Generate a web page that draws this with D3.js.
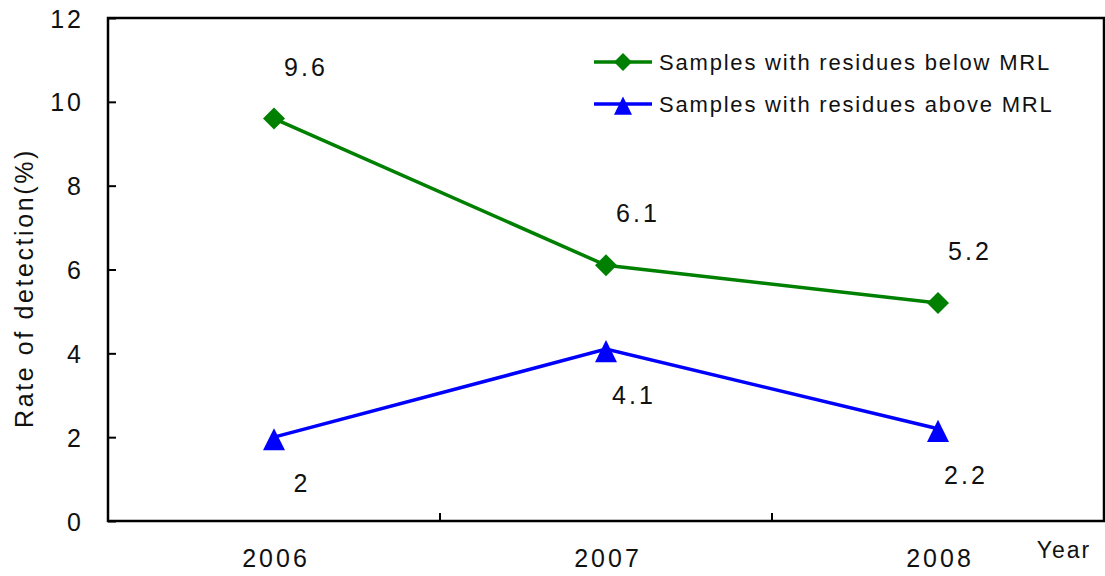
<!DOCTYPE html>
<html><head><meta charset="utf-8">
<script src="https://cdn.jsdelivr.net/npm/d3@7"></script>
<style>body{margin:0;background:#fff}text{font-family:"Liberation Sans",Arial,sans-serif;fill:#111}</style>
</head><body>
<svg id="c" width="1105" height="576"></svg>
<script>
const years = ["2006", "2007", "2008"];
const belowMRL = [9.6, 6.1, 5.2];
const aboveMRL = [2, 4.1, 2.2];
const yTicks = [0, 2, 4, 6, 8, 10, 12];
const seriesNames = ["Samples with residues below MRL", "Samples with residues above MRL"];

const svg = d3.select("#c");
const L = 108, R = 1104, T = 18, B = 521;
const x = d3.scaleBand().domain(years).range([L, R]);
const y = d3.scaleLinear().domain([0, 12]).range([B, T]);

// frame
svg.append("rect").attr("x", L).attr("y", T).attr("width", R - L).attr("height", B - T)
  .attr("fill", "none").attr("stroke", "#000").attr("stroke-width", 2.5);

// y axis
const ya = svg.append("g").attr("transform", `translate(${L},0)`)
  .call(d3.axisLeft(y).tickValues(yTicks).tickSize(-8).tickPadding(24).tickFormat(d3.format("d")));
ya.select(".domain").remove();
ya.selectAll("line").attr("stroke", "#000").attr("stroke-width", 2);
ya.selectAll("text").attr("font-size", 25).attr("letter-spacing", 3).attr("dy", "0.36em").style("fill", "#111");

// x axis
const xa = svg.append("g").attr("transform", `translate(0,${B})`)
  .call(d3.axisBottom(x).tickSize(0).tickPadding(28));
xa.select(".domain").remove();
xa.selectAll("text").attr("font-size", 25).attr("letter-spacing", 3).attr("dx", 2).style("fill", "#111");
// category boundary ticks
const bounds = years.slice(1).map(d => x(d));
svg.selectAll(".bt").data(bounds).enter().append("line")
  .attr("x1", d => d).attr("x2", d => d).attr("y1", B).attr("y2", B - 8)
  .attr("stroke", "#000").attr("stroke-width", 2);

// axis titles
svg.append("text").attr("transform", `translate(33,288) rotate(-90)`).attr("text-anchor", "middle")
  .attr("font-size", 25).attr("letter-spacing", 2.6).text("Rate of detection(%)");
svg.append("text").attr("x", 1064).attr("y", 558).attr("text-anchor", "middle")
  .attr("font-size", 23).attr("letter-spacing", 2).text("Year");

const cx = d => x(d) + x.bandwidth() / 2;
const line = d3.line().x(d => cx(d[0])).y(d => y(d[1]));
const green = "#008000", blue = "#0000ff";
const diamond = s => `M0,${-s}L${s},0L0,${s}L${-s},0Z`;
const tri = s => `M0,${-s * 0.82}L${s},${s * 1.2}L${-s},${s * 1.2}Z`;

function series(vals, color, sym, dx, dy) {
  const data = years.map((yr, i) => [yr, vals[i]]);
  svg.append("path").datum(data).attr("d", line).attr("fill", "none")
    .attr("stroke", color).attr("stroke-width", 3.5);
  svg.selectAll(null).data(data).enter().append("path")
    .attr("d", sym).attr("fill", color)
    .attr("transform", d => `translate(${cx(d[0])},${y(d[1])})`);
  svg.selectAll(null).data(data).enter().append("text")
    .attr("x", d => cx(d[0]) + dx).attr("y", d => y(d[1]) + dy)
    .attr("text-anchor", "middle").attr("font-size", 25).attr("letter-spacing", 3)
    .text(d => d[1]);
}
series(belowMRL, green, diamond(11), 32, -43);
series(aboveMRL, blue, tri(11), 28, 55);

// legend
const leg = [[seriesNames[0], green, diamond(9)], [seriesNames[1], blue, tri(9)]];
leg.forEach((l, i) => {
  const ly = 62 + i * 42;
  svg.append("line").attr("x1", 594).attr("x2", 652).attr("y1", ly).attr("y2", ly)
    .attr("stroke", l[1]).attr("stroke-width", 3.5);
  svg.append("path").attr("d", l[2]).attr("fill", l[1]).attr("transform", `translate(623,${ly})`);
  svg.append("text").attr("x", 659).attr("y", ly + 8).attr("font-size", 22).attr("letter-spacing", 1.8).text(l[0]);
});
</script>
</body></html>
